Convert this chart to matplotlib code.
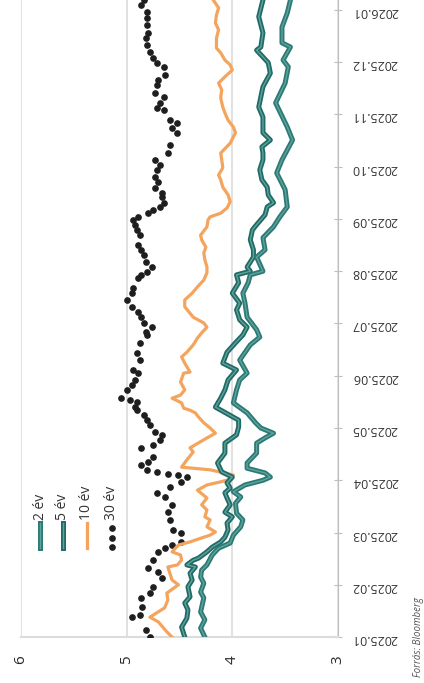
import matplotlib
matplotlib.use("Agg")
import matplotlib.pyplot as plt

plt.rcParams['font.family'] = ['Open Sans', 'DejaVu Sans']

# idő: hónapok 2025.01 elejétől (tört hónap), hozam: %
t_2y = [0.00, 0.17, 0.33, 0.48, 0.75, 0.86, 1.03, 1.15, 1.28, 1.38, 1.57, 1.70, 1.80, 1.95,
        2.11, 2.24, 2.37, 2.56, 2.68, 2.78, 2.91, 3.00, 3.06, 3.14, 3.23, 3.33, 3.52, 3.71,
        3.81, 3.90, 4.00, 4.10, 4.29, 4.48, 4.73, 4.92, 5.05, 5.30, 5.59, 5.74, 5.88, 6.12,
        6.39, 6.58, 6.78, 6.93, 7.00, 7.27, 7.41, 7.64, 7.85, 8.04, 8.23, 8.56, 8.88, 9.13,
        9.51, 9.76, 10.22, 10.60, 10.91, 11.04, 11.29, 11.37, 11.67, 11.94, 12.19]
y_2y = [4.26, 4.30, 4.26, 4.30, 4.27, 4.30, 4.27, 4.30, 4.29, 4.24, 4.19, 4.13, 4.02, 3.99,
        3.92, 3.90, 3.96, 3.97, 3.92, 3.99, 3.88, 3.71, 3.64, 3.69, 3.86, 3.86, 3.77, 3.77,
        3.69, 3.61, 3.73, 3.78, 3.86, 3.99, 3.96, 3.93, 3.86, 3.93, 3.83, 3.74, 3.77, 3.86,
        3.88, 3.90, 3.85, 3.83, 3.71, 3.77, 3.69, 3.71, 3.61, 3.55, 3.48, 3.50, 3.58, 3.53,
        3.43, 3.48, 3.59, 3.50, 3.47, 3.52, 3.45, 3.53, 3.53, 3.48, 3.45]

t_5y = [0.00, 0.19, 0.36, 0.52, 0.65, 0.77, 0.96, 1.09, 1.22, 1.34, 1.38, 1.47, 1.51, 1.63,
        1.72, 1.82, 1.91, 2.05, 2.18, 2.30, 2.39, 2.53, 2.66, 2.76, 2.85, 2.95, 3.06, 3.16,
        3.33, 3.52, 3.71, 3.87, 4.02, 4.15, 4.40, 4.57, 4.73, 4.92, 5.11, 5.24, 5.45, 5.63,
        5.78, 5.93, 6.07, 6.26, 6.39, 6.58, 6.78, 6.93, 7.00, 7.08, 7.27, 7.41, 7.60, 7.79,
        7.89, 8.08, 8.23, 8.31, 8.46, 8.61, 8.75, 8.94, 9.13, 9.26, 9.38, 9.51, 9.65, 9.95,
        10.14, 10.53, 10.79, 10.99, 11.23, 11.29, 11.56, 11.87, 12.19]
y_5y = [4.45, 4.48, 4.43, 4.42, 4.45, 4.40, 4.42, 4.38, 4.40, 4.35, 4.43, 4.37, 4.32, 4.24,
        4.19, 4.11, 4.07, 4.04, 4.05, 4.00, 4.07, 4.02, 4.05, 4.07, 4.02, 4.05, 4.00, 4.10,
        4.14, 4.07, 4.07, 3.96, 3.94, 3.94, 4.16, 4.11, 4.07, 4.04, 3.96, 4.09, 4.05, 3.97,
        3.90, 3.86, 3.93, 3.96, 3.93, 4.00, 3.94, 3.96, 3.83, 3.86, 3.80, 3.80, 3.83, 3.81,
        3.77, 3.69, 3.67, 3.61, 3.66, 3.67, 3.72, 3.74, 3.71, 3.71, 3.72, 3.64, 3.71, 3.71,
        3.75, 3.71, 3.64, 3.66, 3.77, 3.73, 3.71, 3.75, 3.71]

t_10y = [0.00, 0.10, 0.29, 0.38, 0.56, 0.71, 0.84, 1.00, 1.09, 1.34, 1.38, 1.47, 1.57, 1.63,
         1.76, 1.82, 1.89, 1.95, 2.01, 2.11, 2.24, 2.30, 2.43, 2.53, 2.66, 2.76, 2.81, 2.91,
         2.97, 3.02, 3.10, 3.20, 3.25, 3.39, 3.54, 3.62, 3.81, 3.90, 4.00, 4.10, 4.21, 4.29,
         4.34, 4.38, 4.48, 4.57, 4.63, 4.73, 4.88, 5.05, 5.07, 5.24, 5.36, 5.45, 5.59, 5.72,
         5.82, 5.93, 6.01, 6.12, 6.32, 6.45, 6.58, 6.70, 6.83, 6.97, 7.08, 7.22, 7.35, 7.46,
         7.60, 7.69, 7.85, 7.98, 8.04, 8.11, 8.21, 8.33, 8.46, 8.61, 8.75, 8.84, 8.98, 9.13,
         9.26, 9.45, 9.65, 9.76, 9.89, 10.03, 10.14, 10.32, 10.47, 10.60, 10.72, 10.85, 10.95,
         11.04, 11.18, 11.27, 11.46, 11.62, 11.75, 11.90, 12.04, 12.13, 12.19]
y_10y = [4.57, 4.62, 4.70, 4.78, 4.64, 4.61, 4.62, 4.51, 4.57, 4.61, 4.52, 4.48, 4.49, 4.57,
         4.51, 4.40, 4.30, 4.21, 4.16, 4.24, 4.21, 4.26, 4.24, 4.29, 4.24, 4.30, 4.33, 4.24,
         4.11, 4.02, 3.99, 4.21, 4.48, 4.43, 4.37, 4.40, 4.24, 4.16, 4.21, 4.27, 4.32, 4.35,
         4.40, 4.46, 4.48, 4.57, 4.49, 4.45, 4.49, 4.46, 4.40, 4.45, 4.48, 4.43, 4.37, 4.33,
         4.29, 4.24, 4.27, 4.37, 4.45, 4.45, 4.38, 4.33, 4.27, 4.24, 4.24, 4.26, 4.27, 4.25,
         4.29, 4.30, 4.24, 4.23, 4.21, 4.11, 4.05, 4.02, 4.04, 4.09, 4.11, 4.13, 4.09, 4.10,
         4.11, 4.02, 3.97, 3.99, 4.04, 4.07, 4.09, 4.11, 4.10, 4.13, 4.07, 4.00, 4.02,
         4.07, 4.11, 4.15, 4.15, 4.13, 4.16, 4.15, 4.13, 4.16, 4.18]

t_30y = [0.00, 0.13, 0.38, 0.42, 0.57, 0.75, 0.84, 0.96, 1.13, 1.24, 1.32, 1.47, 1.63, 1.70,
         1.76, 1.82, 1.99, 2.05, 2.24, 2.39, 2.53, 2.68, 2.76, 2.87, 2.97, 3.06, 3.10, 3.12,
         3.16, 3.20, 3.29, 3.35, 3.44, 3.62, 3.67, 3.77, 3.87, 3.92, 4.06, 4.15, 4.25, 4.34,
         4.40, 4.50, 4.54, 4.57, 4.73, 4.82, 4.92, 5.05, 5.11, 5.30, 5.44, 5.63, 5.78, 5.84,
         5.93, 6.01, 6.12, 6.22, 6.32, 6.45, 6.58, 6.68, 6.87, 6.93, 6.99, 7.08, 7.18, 7.31,
         7.41, 7.50, 7.69, 7.79, 7.89, 7.98, 8.04, 8.11, 8.17, 8.23, 8.31, 8.42, 8.50, 8.59,
         8.71, 8.80, 8.94, 9.03, 9.13, 9.26, 9.42, 9.65, 9.74, 9.84, 9.89, 10.09, 10.12, 10.22,
         10.33, 10.41, 10.56, 10.66, 10.76, 10.91, 10.99, 11.08, 11.20, 11.33, 11.46, 11.56,
         11.71, 11.85, 11.96, 12.10, 12.19]
y_30y = [4.78, 4.82, 4.95, 4.87, 4.85, 4.86, 4.78, 4.75, 4.67, 4.70, 4.80, 4.75, 4.70, 4.64,
         4.57, 4.49, 4.49, 4.56, 4.59, 4.61, 4.57, 4.64, 4.71, 4.59, 4.49, 4.43, 4.51, 4.61,
         4.71, 4.81, 4.86, 4.80, 4.75, 4.86, 4.75, 4.68, 4.67, 4.73, 4.78, 4.81, 4.84, 4.90,
         4.92, 4.90, 4.97, 5.05, 5.00, 4.95, 4.92, 4.89, 4.94, 4.87, 4.90, 4.87, 4.81, 4.82,
         4.76, 4.84, 4.86, 4.89, 4.95, 5.00, 4.95, 4.94, 4.89, 4.86, 4.81, 4.76, 4.82, 4.84,
         4.86, 4.89, 4.87, 4.90, 4.92, 4.94, 4.89, 4.80, 4.75, 4.68, 4.65, 4.67, 4.67, 4.73,
         4.70, 4.73, 4.71, 4.68, 4.73, 4.61, 4.59, 4.52, 4.57, 4.52, 4.59, 4.65, 4.71, 4.68,
         4.65, 4.73, 4.71, 4.70, 4.64, 4.65, 4.71, 4.75, 4.78, 4.81, 4.82, 4.80,
         4.81, 4.81, 4.81, 4.86, 4.84]

month_labels = ['2025.01', '2025.02', '2025.03', '2025.04', '2025.05', '2025.06', '2025.07',
                '2025.08', '2025.09', '2025.10', '2025.11', '2025.12', '2026.01']
yield_ticks = [6, 5, 4, 3]
series_names = ['2 év', '5 év', '10 év', '30 év']

teal_2 = '#2b7a75'
teal_5 = '#1f6b66'
inner = '#62a29c'
orange = '#f4a45c'
dark = '#1e1e1e'

fig = plt.figure(figsize=(4.24, 6.83), dpi=100)
ax = fig.add_axes([0.0495, 0.0673, 0.7476, 0.9327])

# a kép 90 fokkal elforgatva: hozam vízszintesen, idő függőlegesen
ax.plot(y_30y, t_30y, linestyle='none', marker='o', markersize=3.8, color=dark, zorder=3)
ax.plot(y_10y, t_10y, color=orange, lw=2.3, zorder=4)
ax.plot(y_5y, t_5y, color=teal_5, lw=3.6, zorder=5, solid_joinstyle='round')
ax.plot(y_5y, t_5y, color=inner, lw=1.0, zorder=5)
ax.plot(y_2y, t_2y, color=teal_2, lw=3.6, zorder=6, solid_joinstyle='round')
ax.plot(y_2y, t_2y, color=inner, lw=1.0, zorder=6)

ax.set_xlim(6, 3)
ax.set_ylim(0, 12.19)
ax.set_xticks(yield_ticks)
ax.set_xticklabels([str(v) for v in yield_ticks], rotation=90)
ax.tick_params(axis='x', length=0, pad=13, labelsize=11, labelcolor='#2a2a2a')
ax.grid(axis='x', color='#dcdcdc', lw=1.2, zorder=0)

ax.yaxis.tick_right()
ax.set_yticks(range(len(month_labels)))
ax.set_yticklabels(month_labels, rotation=180)
ax.tick_params(axis='y', direction='inout', length=6, color='#bfbfbf', pad=7,
               labelsize=9, labelcolor='#333333')

for side in ['top', 'left']:
    ax.spines[side].set_visible(False)
ax.spines['right'].set_color('#bfbfbf')
ax.spines['bottom'].set_color('#dcdcdc')
ax.spines['bottom'].set_linewidth(1.5)

# jelmagyarázat (elforgatva)
lx = [0.060, 0.1325, 0.208, 0.287]
for i, name in enumerate(series_names):
    x = lx[i]
    if i == 0:
        ax.plot([x, x], [0.140, 0.179], transform=ax.transAxes, color=teal_2, lw=3.6)
        ax.plot([x, x], [0.140, 0.179], transform=ax.transAxes, color=inner, lw=1.0)
    elif i == 1:
        ax.plot([x, x], [0.140, 0.179], transform=ax.transAxes, color=teal_5, lw=3.6)
        ax.plot([x, x], [0.140, 0.179], transform=ax.transAxes, color=inner, lw=1.0)
    elif i == 2:
        ax.plot([x, x], [0.140, 0.179], transform=ax.transAxes, color=orange, lw=2.3)
    else:
        ax.plot([x, x, x], [0.141, 0.156, 0.171], transform=ax.transAxes,
                linestyle='none', marker='o', markersize=3.8, color=dark)
    ax.text(x, 0.184, name, transform=ax.transAxes, rotation=90, ha='center',
            va='bottom', fontsize=10, color='#333333')

fig.text(418 / 424, 0.009, 'Forrás: Bloomberg', rotation=90, ha='center', va='bottom',
         fontsize=7, style='italic', color='#555555')

fig.savefig('out.png', dpi=100)
